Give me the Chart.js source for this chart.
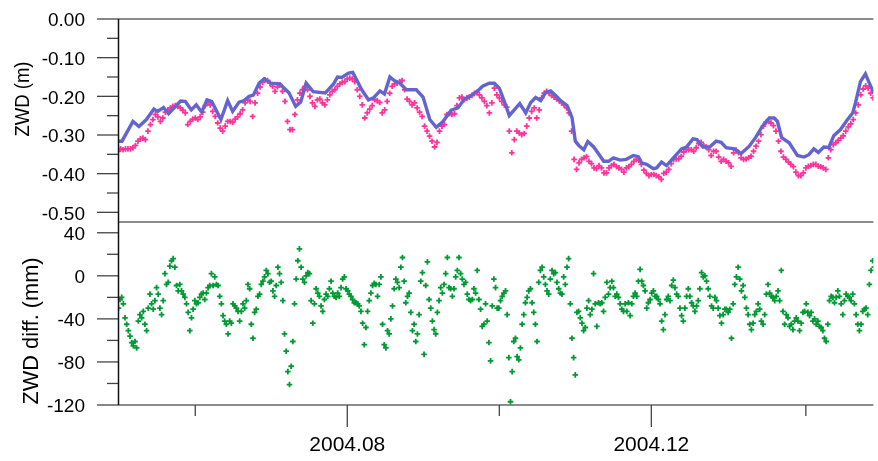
<!DOCTYPE html>
<html>
<head>
<meta charset="utf-8">
<script src="https://cdn.jsdelivr.net/npm/chart.js@4.4.0/dist/chart.umd.min.js"></script>
<style>
  html, body { margin: 0; padding: 0; background: #ffffff; }
  #wrap { width: 878px; height: 461px; position: relative; }
  canvas { display: block; }
</style>
</head>
<body>
<div id="wrap"><canvas id="zwd" width="878" height="461"></canvas></div>
<script>
// Time axis: days counted from 2004-05-01.
const monthTickDays   = [31, 92, 153, 214, 276];
const monthTickLabels = ['', '2004.08', '', '2004.12', ''];

// Upper panel ticks (m)
const zwdTicks      = [0, -0.1, -0.2, -0.3, -0.4, -0.5];
const zwdTickLabels = ['0.00', '-0.10', '-0.20', '-0.30', '-0.40', '-0.50'];
const zwdMinorTicks = [-0.05, -0.15, -0.25, -0.35, -0.45];

// Lower panel ticks (mm)
const diffTicks      = [40, 0, -40, -80, -120];
const diffTickLabels = ['40', '0', '-40', '-80', '-120'];
const diffMinorTicks = [20, -20, -60, -100];

// Reference ZWD profile (line), sample times in days and values in m
const blueDay = [
  0.1, 1.6, 6.0, 8.4, 11.4, 14.4, 15.9, 18.3, 20.3, 25.1,
  27.0, 29.4, 31.4, 33.6, 35.7, 37.6, 41.3, 44.0, 46.0, 48.6,
  50.6, 52.6, 54.3, 56.6, 58.6, 61.3, 64.9, 68.6, 71.3, 73.3,
  75.5, 78.3, 83.2, 86.5, 88.1, 89.8, 92.5, 94.2, 97.8, 100.5,
  102.5, 105.1, 106.9, 109.1, 110.8, 113.1, 115.7, 119.7, 122.4, 125.1,
  127.7, 130.4, 133.7, 136.4, 139.0, 141.7, 144.3, 146.3, 149.0, 151.0,
  153.0, 155.0, 157.0, 159.0, 161.2, 163.6, 165.6, 167.6, 169.6, 171.6,
  173.6, 175.6, 177.6, 180.2, 182.2, 183.5, 184.9, 186.9, 188.5, 190.9,
  194.9, 196.8, 198.8, 201.5, 203.9, 206.8, 208.8, 210.1, 212.1, 214.8,
  216.1, 218.1, 220.1, 223.4, 226.1, 228.1, 230.7, 232.3, 234.7, 237.4,
  240.0, 242.0, 244.0, 247.3, 250.0, 253.3, 256.0, 258.7, 261.3, 263.3,
  264.6, 266.3, 269.3, 272.6, 275.2, 277.2, 279.2, 281.0, 283.2, 285.2,
  287.2, 289.9, 292.5, 294.8, 295.9, 297.9, 299.9, 301.2, 303.2
];
const blueZwd = [
  -0.316, -0.316, -0.265, -0.278, -0.260, -0.233, -0.239, -0.229, -0.245, -0.212,
  -0.213, -0.235, -0.222, -0.241, -0.209, -0.213, -0.260, -0.211, -0.239, -0.215,
  -0.211, -0.200, -0.197, -0.166, -0.155, -0.166, -0.168, -0.191, -0.226, -0.215,
  -0.166, -0.188, -0.191, -0.168, -0.150, -0.151, -0.140, -0.138, -0.183, -0.209,
  -0.204, -0.186, -0.194, -0.150, -0.159, -0.166, -0.183, -0.183, -0.202, -0.260,
  -0.280, -0.265, -0.236, -0.230, -0.207, -0.198, -0.186, -0.174, -0.166, -0.166,
  -0.179, -0.213, -0.250, -0.235, -0.219, -0.243, -0.216, -0.203, -0.211, -0.190,
  -0.186, -0.198, -0.211, -0.224, -0.256, -0.316, -0.327, -0.338, -0.317, -0.331,
  -0.368, -0.368, -0.359, -0.365, -0.363, -0.353, -0.356, -0.372, -0.376, -0.387,
  -0.385, -0.370, -0.379, -0.355, -0.336, -0.331, -0.310, -0.312, -0.331, -0.331,
  -0.316, -0.319, -0.333, -0.336, -0.348, -0.329, -0.305, -0.276, -0.256, -0.256,
  -0.265, -0.307, -0.320, -0.353, -0.357, -0.351, -0.336, -0.345, -0.331, -0.332,
  -0.302, -0.286, -0.262, -0.243, -0.217, -0.162, -0.142, -0.162, -0.191
];

// Daily ZWD estimates (m), day 0 onward
const pinkZwd = [
  -0.342, -0.336, -0.338, -0.336, -0.336, -0.336, -0.333, -0.327, -0.316, -0.310,
  -0.308, -0.312, -0.290, -0.273, -0.260, -0.247, -0.253, -0.265, -0.256, -0.241,
  -0.235, -0.230, -0.226, -0.224, -0.226, -0.230, -0.236, -0.243, -0.273, -0.265,
  -0.259, -0.256, -0.260, -0.253, -0.241, -0.224, -0.217, -0.222, -0.239, -0.252,
  -0.269, -0.282, -0.290, -0.277, -0.265, -0.265, -0.267, -0.259, -0.253, -0.245,
  -0.235, -0.217, -0.209, -0.213, -0.252, -0.217, -0.192, -0.176, -0.164, -0.157,
  -0.159, -0.166, -0.174, -0.187, -0.176, -0.170, -0.187, -0.213, -0.265, -0.286,
  -0.286, -0.247, -0.209, -0.192, -0.183, -0.174, -0.183, -0.200, -0.217, -0.226,
  -0.209, -0.207, -0.217, -0.222, -0.209, -0.196, -0.187, -0.183, -0.174, -0.168,
  -0.164, -0.162, -0.155, -0.153, -0.155, -0.162, -0.183, -0.200, -0.222, -0.256,
  -0.243, -0.233, -0.224, -0.209, -0.211, -0.216, -0.243, -0.235, -0.213, -0.192,
  -0.174, -0.168, -0.166, -0.162, -0.159, -0.183, -0.207, -0.213, -0.222, -0.217,
  -0.230, -0.241, -0.252, -0.277, -0.290, -0.303, -0.316, -0.331, -0.319, -0.290,
  -0.277, -0.273, -0.247, -0.245, -0.247, -0.245, -0.224, -0.204, -0.202, -0.209,
  -0.204, -0.202, -0.198, -0.192, -0.190, -0.196, -0.204, -0.213, -0.224, -0.243,
  -0.217, -0.179, -0.196, -0.204, -0.213, -0.222, -0.228, -0.290, -0.346, -0.312,
  -0.290, -0.295, -0.299, -0.296, -0.277, -0.256, -0.239, -0.230, -0.256, -0.235,
  -0.204, -0.192, -0.187, -0.192, -0.198, -0.202, -0.207, -0.211, -0.217, -0.222,
  -0.230, -0.243, -0.290, -0.363, -0.389, -0.372, -0.363, -0.359, -0.356, -0.368,
  -0.374, -0.385, -0.387, -0.379, -0.385, -0.398, -0.398, -0.385, -0.379, -0.376,
  -0.382, -0.385, -0.389, -0.396, -0.385, -0.382, -0.376, -0.368, -0.363, -0.365,
  -0.376, -0.391, -0.399, -0.405, -0.402, -0.402, -0.405, -0.408, -0.415, -0.399,
  -0.396, -0.389, -0.374, -0.363, -0.362, -0.362, -0.355, -0.344, -0.338, -0.338,
  -0.338, -0.342, -0.333, -0.322, -0.319, -0.327, -0.331, -0.338, -0.353, -0.342,
  -0.342, -0.357, -0.368, -0.363, -0.368, -0.372, -0.381, -0.346, -0.339, -0.346,
  -0.359, -0.363, -0.362, -0.359, -0.355, -0.342, -0.329, -0.316, -0.299, -0.277,
  -0.267, -0.265, -0.269, -0.276, -0.290, -0.316, -0.342, -0.357, -0.363, -0.370,
  -0.376, -0.382, -0.396, -0.405, -0.405, -0.398, -0.385, -0.381, -0.379, -0.376,
  -0.376, -0.381, -0.382, -0.385, -0.389, -0.359, -0.338, -0.325, -0.320, -0.314,
  -0.308, -0.302, -0.290, -0.279, -0.271, -0.260, -0.243, -0.222, -0.196, -0.181,
  -0.173, -0.179, -0.192, -0.204
];

// ZWD differences (mm), sampled every 16 hours
const diffStartDay = 0.15;
const diffStepDays = 2 / 3;
const diffMm = [
  -30, -22, -20, -26, -39, -45, -51, -56, -62, -65,
  -61, -67, -42, -36, -39, -33, -45, -51, -30, -17,
  -26, -31, -23, -11, -17, -30, -36, -23, 2, -8,
  -6, 9, 14, 16, 8, -9, -14, -8, -14, -17,
  -20, -26, -34, -51, -39, -31, -23, -26, -25, -20,
  -17, -16, -22, -16, -11, -9, 2, -9, -1, -8,
  -9, -19, -26, -37, -42, -45, -54, -42, -44, -26,
  -28, -30, -33, -42, -33, -26, -30, -23, -8, -12,
  -45, -58, -34, -31, -19, -17, -8, -5, -1,
  5, 2, -6, -5, -14, -19, -9, 8, 2, -6,
  -23, -54, -70, -89, -101, -84, -61, -26, -3, 14,
  25, 8, -3, -6, 0, 3, 2, -23, -44, -26,
  -12, -16, -19, -28, -33, -22, -17, -19, -12, -5,
  -16, -19, -20, -16, -19, -11, -3, -1, -12, -14,
  -17, -19, -22, -25, -25, -26, -28, -33, -44, -64,
  -48, -33, -23, -16, -9,
  -7, -8, -19, -8, -1, -45, -64, -67, -51, -54,
  -40, -28, -12, -3, -6, -11, 8, 17, -5, -25,
  -19, -16, -34, -51, -45, -61, -54, -36, -5, 3,
  -73, -9, 13, -22, -30, -42, -50, -54, -34, -23,
  -11, -16, -8, 2, 17, -11, -12, -19, -12, -1,
  5, 17, 2, -3, -8, -6, -17, -22, -23, -22,
  -12, -16, 5, -22, -31, -47, -45, -26, -42, -62,
  -79, -28, -3, -11, -30, -30, -23, -19, -16,
  -14, -36, -76, -117, -89, -61, -58, -75, -78, -67,
  -45, -36, -25, -20, -14, -12, -25, -34, -45, -61,
  -6, 5, 8, -1, -8, -14, -17, -3, 5, 2,
  3, -6, -12, -16, -17, -1, -8, 8, 16, -26,
  -58, -76, -92, -34, -33, -39, -44, -51, -48, -30,
  -23, -36, -31, 2, -26, -47, -25, -26, -25, -33,
  -20, -6, -17, -11, -5, -11, -19, -17, -20, -26,
  -31, -33, -26,
  -33, -25, -37, -26, -19, -16, -19, -5, 6, -5,
  -9, -14, -30, -25, -22, -16, -14, -19, -19, -22,
  -26, -42, -50, -36, -22, -19, -23, -9, -4, -11,
  -17, -19, -30, -37, -42, -30, -19, -12, -19, -25,
  -28, -33, -28, -23, -12, 3, -1, 0, -5,
  -12, -19, -28, -30, -20, -23, -30, -37, -44, -36,
  -31, -31, -34, -31, -58, -26, -8, -1, 8, -3,
  -14, -9, -20, -30, -36, -45, -50, -44, -36, -33,
  -26, -31, -42, -45, -36, -17, -8, -16, -19, -20,
  -23, -19, -14, -23, 5, -33, -45, -36, -39, -47,
  -45, -50, -42, -39, -42, -51, -44, -34, -33, -26,
  -34, -37, -34, -42, -40, -45, -42, -47, -48, -51,
  -58, -61, -45, -23, -19, -20, -25, -20, -14, -19,
  -26, -36, -23, -17, -19, -20, -23, -17, -26, -36,
  -45, -51, -45, -33, -31, -30, -36, -8, 5, 14,
  8
];

const FONT = "'Liberation Sans', Arial, Helvetica, sans-serif";
const AXIS_LEFT = 118;

// Frame lines, major/minor tick marks and rotated axis titles
const framePlugin = {
  id: 'frame',
  afterDraw(chart) {
    const ctx = chart.ctx;
    const area = chart.chartArea;
    const xs = chart.scales.x, yz = chart.scales.yZwd, yd = chart.scales.yDiff;
    const seg = (x1, y1, x2, y2, color, w) => {
      ctx.beginPath();
      ctx.strokeStyle = color; ctx.lineWidth = w;
      ctx.moveTo(x1, y1); ctx.lineTo(x2, y2); ctx.stroke();
    };
    ctx.save();
    const tickCol = '#444';
    // horizontal frame lines
    seg(area.left, yz.top, area.right, yz.top, '#666', 1.3);
    seg(area.left, yz.bottom, area.right, yz.bottom, '#666', 1.3);
    seg(area.left, yd.bottom, area.right, yd.bottom, '#666', 1.3);
    // y ticks
    zwdTicks.forEach(v => { const y = yz.getPixelForValue(v); seg(AXIS_LEFT - 21, y, AXIS_LEFT, y, tickCol, 1.3); });
    zwdMinorTicks.forEach(v => { const y = yz.getPixelForValue(v); seg(AXIS_LEFT - 11, y, AXIS_LEFT, y, tickCol, 1.3); });
    diffTicks.forEach(v => { const y = yd.getPixelForValue(v); seg(AXIS_LEFT - 21, y, AXIS_LEFT, y, tickCol, 1.3); });
    diffMinorTicks.forEach(v => { const y = yd.getPixelForValue(v); seg(AXIS_LEFT - 11, y, AXIS_LEFT, y, tickCol, 1.3); });
    // x ticks
    monthTickDays.forEach((d, i) => {
      const x = xs.getPixelForValue(d);
      const len = monthTickLabels[i] ? 22 : 11;
      seg(x, yd.bottom, x, yd.bottom + len, tickCol, 1.3);
    });
    // left axis
    seg(AXIS_LEFT + 0.5, yz.top, AXIS_LEFT + 0.5, yd.bottom, '#111', 1.5);

    // rotated axis titles
    const title = (text, xBase, yMid, size, len) => {
      ctx.save();
      ctx.font = size + 'px ' + FONT;
      const w = ctx.measureText(text).width;
      ctx.translate(xBase, yMid);
      ctx.rotate(-Math.PI / 2);
      ctx.scale(len / w, 1);
      ctx.fillStyle = '#000';
      ctx.textAlign = 'center';
      ctx.textBaseline = 'alphabetic';
      ctx.fillText(text, 0, 0);
      ctx.restore();
    };
    title('ZWD (m)', 28.5, 99, 21, 75);
    title('ZWD diff. (mm)', 38, 331, 22, 147);
    ctx.restore();
  }
};

const crossStyle = color => ({
  showLine: false,
  pointStyle: 'cross',
  pointRadius: 2.8,
  pointHoverRadius: 2.8,
  pointBorderWidth: 1.8,
  pointBorderColor: color,
  pointBackgroundColor: color,
  borderColor: color
});

// Scale paddings are fixed so the panels sit exactly inside the layout padding
const noScalePadding = s => {
  s.paddingTop = 0; s.paddingBottom = 0; s.paddingLeft = 0; s.paddingRight = 0;
};

new Chart(document.getElementById('zwd'), {
  type: 'scatter',
  data: {
    datasets: [
      {
        type: 'line',
        label: 'ZWD reference',
        data: blueDay.map((d, i) => ({ x: d, y: blueZwd[i] })),
        yAxisID: 'yZwd',
        borderColor: '#6464cf',
        borderWidth: 3.4,
        pointRadius: 0,
        tension: 0,
        fill: false
      },
      Object.assign({
        label: 'ZWD',
        data: pinkZwd.map((v, i) => ({ x: i, y: v })),
        yAxisID: 'yZwd'
      }, crossStyle('#ff3399')),
      Object.assign({
        label: 'ZWD diff.',
        data: diffMm.map((v, i) => ({ x: diffStartDay + i * diffStepDays, y: v })),
        yAxisID: 'yDiff'
      }, crossStyle('#009933'))
    ]
  },
  options: {
    responsive: false,
    animation: false,
    events: [],
    layout: { padding: { top: 19, right: 0, bottom: 0, left: 0 } },
    plugins: { legend: { display: false }, tooltip: { enabled: false } },
    scales: {
      x: {
        type: 'linear',
        position: 'bottom',
        min: 0,
        max: 303.1,
        grid: { display: false, drawTicks: false },
        border: { display: false },
        afterBuildTicks: s => { s.ticks = monthTickDays.map(v => ({ value: v })); },
        afterFit: s => { s.height = 56; noScalePadding(s); },
        ticks: {
          autoSkip: false,
          maxRotation: 0,
          padding: 28,
          color: '#000',
          font: { family: FONT, size: 21 },
          callback: v => monthTickLabels[monthTickDays.indexOf(v)] || ''
        }
      },
      yDiff: {
        type: 'linear',
        position: 'left',
        stack: 'panels',
        stackWeight: 183,
        min: -120,
        max: 50,
        grid: { display: false, drawTicks: false },
        border: { display: false },
        afterBuildTicks: s => { s.ticks = diffTicks.map(v => ({ value: v })); },
        afterFit: s => { s.width = AXIS_LEFT; noScalePadding(s); },
        ticks: {
          autoSkip: false,
          padding: 33,
          labelOffset: 2,
          color: '#000',
          font: { family: FONT, size: 19 },
          callback: v => diffTickLabels[diffTicks.indexOf(v)]
        }
      },
      yZwd: {
        type: 'linear',
        position: 'left',
        stack: 'panels',
        stackWeight: 203,
        min: -0.525,
        max: 0,
        grid: { display: false, drawTicks: false },
        border: { display: false },
        afterBuildTicks: s => { s.ticks = zwdTicks.map(v => ({ value: v })); },
        afterFit: s => { s.width = AXIS_LEFT; noScalePadding(s); },
        ticks: {
          autoSkip: false,
          padding: 33,
          labelOffset: 2,
          color: '#000',
          font: { family: FONT, size: 19 },
          callback: v => zwdTickLabels[zwdTicks.indexOf(v)]
        }
      }
    }
  },
  plugins: [framePlugin]
});
</script>
</body>
</html>
